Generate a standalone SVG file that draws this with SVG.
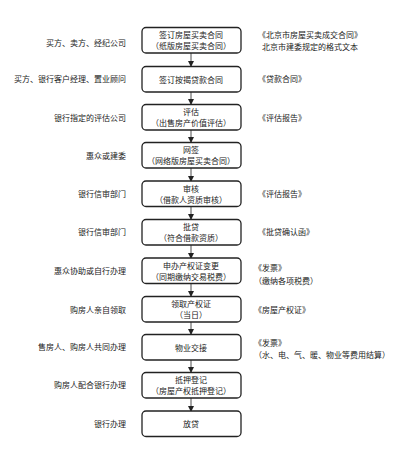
<svg xmlns="http://www.w3.org/2000/svg" width="400" height="463" viewBox="0 0 400 463">
<defs>
<marker id="ah" markerWidth="6" markerHeight="6" refX="5" refY="3" orient="auto" markerUnits="userSpaceOnUse">
<path d="M0,0 L6,3 L0,6 Z" fill="#222"/>
</marker>
<style>
.box{fill:#fff;stroke:#222;stroke-width:1.3}
text{font-family:"Noto Sans CJK SC","Noto Sans",sans-serif;font-size:8px;fill:#222}
.c{text-anchor:middle}
.l{text-anchor:end}
.conn line{stroke:#222;stroke-width:0.8;marker-end:url(#ah)}
</style>
</defs>
<rect width="400" height="463" fill="#fff"/>
<g class="conn" id="connectors">
<line x1="191" y1="53" x2="191" y2="66"/>
<line x1="191" y1="92" x2="191" y2="104"/>
<line x1="191" y1="130" x2="191" y2="142"/>
<line x1="191" y1="168" x2="191" y2="181"/>
<line x1="191" y1="207" x2="191" y2="219"/>
<line x1="191" y1="245" x2="191" y2="258"/>
<line x1="191" y1="284" x2="191" y2="296"/>
<line x1="191" y1="322" x2="191" y2="334"/>
<line x1="191" y1="360" x2="191" y2="372"/>
<line x1="191" y1="398" x2="191" y2="411"/>
</g>
<g id="n1">
<rect class="box" x="142" y="27.5" width="99" height="25.5" rx="4"/>
<text class="c" x="191" y="38">签订房屋买卖合同</text>
<text class="c" x="191" y="49">（纸版房屋买卖合同）</text>
<text class="l" x="126" y="46">买方、卖方、经纪公司</text>
<text x="258" y="38">《北京市房屋买卖成交合同》</text>
<text x="262" y="50">北京市建委规定的格式文本</text>
</g>
<g id="n2">
<rect class="box" x="142" y="66.5" width="99" height="25.5" rx="4"/>
<text class="c" x="191" y="82.5">签订按揭贷款合同</text>
<text class="l" x="126" y="82">买方、银行客户经理、置业顾问</text>
<text x="258" y="82">《贷款合同》</text>
</g>
<g id="n3">
<rect class="box" x="142" y="104.5" width="99" height="25.5" rx="4"/>
<text class="c" x="191" y="115">评估</text>
<text class="c" x="191" y="126">（出售房产价值评估）</text>
<text class="l" x="126" y="121">银行指定的评估公司</text>
<text x="258" y="121">《评估报告》</text>
</g>
<g id="n4">
<rect class="box" x="142" y="142.5" width="99" height="25.5" rx="4"/>
<text class="c" x="191" y="153">网签</text>
<text class="c" x="191" y="164">（网络版房屋买卖合同）</text>
<text class="l" x="126" y="159">惠众或建委</text>
</g>
<g id="n5">
<rect class="box" x="142" y="181" width="99" height="25.5" rx="4"/>
<text class="c" x="191" y="191.5">审核</text>
<text class="c" x="191" y="202.5">（借款人资质审核）</text>
<text class="l" x="126" y="197">银行信审部门</text>
<text x="258" y="197">《评估报告》</text>
</g>
<g id="n6">
<rect class="box" x="142" y="219.5" width="99" height="25.5" rx="4"/>
<text class="c" x="191" y="230">批贷</text>
<text class="c" x="191" y="241">（符合借款资质）</text>
<text class="l" x="126" y="235">银行信审部门</text>
<text x="258" y="235">《批贷确认函》</text>
</g>
<g id="n7">
<rect class="box" x="142" y="258" width="99" height="25.5" rx="4"/>
<text class="c" x="191" y="268.5">申办产权证变更</text>
<text class="c" x="191" y="279.5">（同期缴纳交易税费）</text>
<text class="l" x="126" y="274">惠众协助或自行办理</text>
<text x="254" y="271">《发票》</text>
<text x="254" y="284">（缴纳各项税费）</text>
</g>
<g id="n8">
<rect class="box" x="142" y="296.5" width="99" height="25.5" rx="4"/>
<text class="c" x="191" y="307">领取产权证</text>
<text class="c" x="191" y="318">（当日）</text>
<text class="l" x="126" y="313">购房人亲自领取</text>
<text x="254" y="313">《房屋产权证》</text>
</g>
<g id="n9">
<rect class="box" x="142" y="334.5" width="99" height="25.5" rx="4"/>
<text class="c" x="191" y="350.5">物业交接</text>
<text class="l" x="126" y="350">售房人、购房人共同办理</text>
<text x="254" y="346">《发票》</text>
<text x="254" y="358">（水、电、气、暖、物业等费用结算）</text>
</g>
<g id="n10">
<rect class="box" x="142" y="372.5" width="99" height="25.5" rx="4"/>
<text class="c" x="191" y="383">抵押登记</text>
<text class="c" x="191" y="394">（房屋产权抵押登记）</text>
<text class="l" x="126" y="388">购房人配合银行办理</text>
</g>
<g id="n11">
<rect class="box" x="142" y="411" width="99" height="25.5" rx="4"/>
<text class="c" x="191" y="427">放贷</text>
<text class="l" x="126" y="427">银行办理</text>
</g>
</svg>
